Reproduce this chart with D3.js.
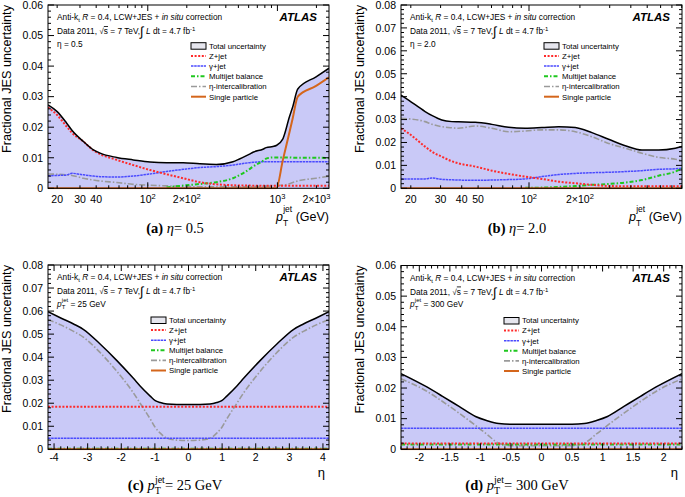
<!DOCTYPE html>
<html><head><meta charset="utf-8">
<script src="https://cdn.jsdelivr.net/npm/d3@7"></script>
<style>body{margin:0;background:#fff}svg{display:block}</style>
</head><body>
<svg id="chart" width="685" height="497"></svg>
<script>
// ---------- DATA ----------
// Panel (a): eta = 0.5, vs pT (GeV)
const ptA    = [17, 20, 23.7, 26, 31.9, 38.1, 42.9, 57.6, 77.3, 104, 139.6, 187.5, 252, 338, 454, 542, 610, 648, 773, 820, 923, 980, 1102, 1240, 1315, 1436, 1987, 2500];
const totalA = [0.0273,0.0251,0.0213,0.0190,0.0153,0.0126,0.0115,0.0101,0.0093,0.0086,0.0084,0.0084,0.0080,0.0078,0.0087,0.0101,0.0112,0.0118,0.0128,0.0133,0.0137,0.0140,0.0162,0.0235,0.0268,0.0325,0.0365,0.0393];
const zjetA  = [0.0265,0.0240,0.0202,0.0182,0.0153,0.0124,0.0112,0.0093,0.0076,0.0060,0.0046,0.0033,0.0020,0.0013,0.0010,0.0009,0.0009,0.0008,0.0008,0.0008,0.0008,0.0008,0.0008,0.0008,0.0008,0.0008,0.0008,0.0008];
const gjetA  = [0.0041,0.0042,0.0044,0.0049,0.0044,0.0040,0.0038,0.0037,0.0040,0.0047,0.0055,0.0062,0.0068,0.0071,0.0076,0.0081,0.0084,0.0085,0.0087,0.0087,0.0087,0.0087,0.0087,0.0087,0.0087,0.0087,0.0087,0.0087];
const mjbA   = [null,null,null,null,null,null,null,null,null,null,0.0003,0.0009,0.0014,0.0020,0.0033,0.0049,0.0063,0.0071,0.0090,0.0097,0.0101,0.0101,0.0101,0.0101,0.0100,0.0100,0.0100,0.0099];
const etaA   = [0.0047,0.0046,0.0044,0.0042,0.0033,0.0027,0.0024,0.0019,0.0013,0.0010,0.0008,0.0006,0.0005,0.0005,0.0005,0.0005,0.0006,0.0006,0.0007,0.0007,0.0008,0.0009,0.0010,0.0015,0.0019,0.0024,0.0033,0.0040];
const spA    = [0,0,0,0,0,0,0,0,0,0,0,0,0,0,0,0,0,0,0,0,0,0,0.0093,0.0184,0.0231,0.0300,0.0335,0.0363];

// Panel (b): eta = 2.0, vs pT (GeV)
const ptB    = [17.5, 19.4, 24.3, 26.6, 30.5, 35.0, 38.3, 48.0, 60.3, 75.7, 95.0, 119.2, 149.5, 187.7, 235.5, 295.6, 370.9, 465.5, 584.2, 733, 803];
const totalB = [0.0407,0.0385,0.0335,0.0318,0.0298,0.0291,0.0290,0.0288,0.0279,0.0266,0.0262,0.0265,0.0269,0.0265,0.0243,0.0214,0.0186,0.0167,0.0167,0.0175,0.0182];
const zjetB  = [0.0262,0.0240,0.0182,0.0160,0.0138,0.0118,0.0109,0.0095,0.0077,0.0063,0.0051,0.0041,0.0029,0.0022,0.0015,0.0010,0.0009,0.0009,0.0009,0.0009,0.0009];
const gjetB  = [0.0041,0.0041,0.0041,0.0045,0.0039,0.0037,0.0036,0.0035,0.0036,0.0038,0.0041,0.0051,0.0060,0.0065,0.0068,0.0070,0.0073,0.0077,0.0083,0.0085,0.0088];
const mjbB   = [null,null,null,null,null,null,null,null,null,null,0.0002,0.0003,0.0006,0.0010,0.0015,0.0019,0.0025,0.0036,0.0055,0.0073,0.0087];
const etaB   = [0.0305,0.0303,0.0291,0.0280,0.0269,0.0264,0.0262,0.0272,0.0262,0.0247,0.0250,0.0255,0.0255,0.0247,0.0225,0.0196,0.0175,0.0153,0.0135,0.0127,0.0121];
const spB    = [0,0,0,0,0,0,0,0,0,0,0,0,0,0,0,0,0,0,0,0,0];

// Panel (c): pT = 25 GeV, vs eta
const etaPtsC = [-4.18,-3.8,-3.42,-3.13,-2.63,-2.13,-1.64,-1.44,-1.14,-0.99,-0.84,-0.64,-0.35,0,0.35,0.64,0.84,0.99,1.14,1.44,1.64,2.13,2.63,3.13,3.42,3.8,4.18];
const totalC  = [0.0597,0.0570,0.0544,0.0521,0.0457,0.0385,0.0308,0.0275,0.0231,0.0211,0.0203,0.0197,0.0195,0.0195,0.0195,0.0197,0.0203,0.0211,0.0231,0.0275,0.0308,0.0385,0.0457,0.0521,0.0544,0.0570,0.0597];
const etaC    = [0.0563,0.0540,0.0512,0.0487,0.0420,0.0338,0.0245,0.0200,0.0132,0.0095,0.0070,0.0048,0.0040,0.0038,0.0040,0.0048,0.0070,0.0095,0.0132,0.0200,0.0245,0.0338,0.0420,0.0487,0.0512,0.0540,0.0563];
const zjetC   = etaPtsC.map(() => 0.0185);
const gjetC   = etaPtsC.map(() => 0.0048);
const mjbC    = etaPtsC.map(() => 0.0002);
const spC     = etaPtsC.map(() => 0);

// Panel (d): pT = 300 GeV, vs eta
const etaPtsD = [-2.3,-1.9,-1.62,-1.35,-1.08,-0.9,-0.7,-0.5,0,0.5,0.7,0.9,1.08,1.35,1.62,1.9,2.3];
const totalD  = [0.0247,0.0206,0.0173,0.0140,0.0107,0.0094,0.0084,0.0082,0.0082,0.0082,0.0084,0.0094,0.0107,0.0140,0.0173,0.0206,0.0247];
const etaD    = [0.0230,0.0192,0.0156,0.0118,0.0078,0.0050,0.0020,0.0012,0.0012,0.0012,0.0020,0.0050,0.0078,0.0118,0.0156,0.0192,0.0230];
const zjetD   = etaPtsD.map(() => 0.0019);
const gjetD   = etaPtsD.map(() => 0.0069);
const mjbD    = etaPtsD.map(() => 0.0016);
const spD     = etaPtsD.map(() => 0);

const legendLabels = ["Total uncertainty","Z+jet","\u03B3+jet","Multijet balance","\u03B7-intercalibration","Single particle"];
const xTickLabelsA = [[20,"20"],[30,"30"],[40,"40"],[100,"10^2"],[200,"2\u00D710^2"],[1000,"10^3"],[2000,"2\u00D710^3"]];
const xTickLabelsB = [[20,"20"],[30,"30"],[40,"40"],[50,"50"],[100,"10^2"],[200,"2\u00D710^2"]];
const xTickLabelsC = [-4,-3,-2,-1,0,1,2,3,4];
const xTickLabelsD = [-2,-1.5,-1,-0.5,0,0.5,1,1.5,2];

// ---------- STYLE ----------
const SANS = "'Liberation Sans', Arial, Helvetica, sans-serif";
const SERIF = "'Liberation Serif', 'Times New Roman', serif";
const FILL = "#c9c9f7";
const styles = {
  z:   {stroke:"#ff2a2a", width:2,   dash:"2,1.6"},
  g:   {stroke:"#4a4aff", width:1.5, dash:"2.5,0.7"},
  mj:  {stroke:"#1fc81f", width:2,   dash:"4,2,1.5,2"},
  eta: {stroke:"#9a9a9a", width:1.6, dash:"6,2,1.5,2"},
  sp:  {stroke:"#d4661c", width:2,   dash:null}
};

const svg = d3.select("#chart");

const panels = [
  {L:48, R:329, T:5, B:188.3, log:true, xd:[17,2500], ymax:0.06, xs:ptA,
   ser:{total:totalA,z:zjetA,g:gjetA,mj:mjbA,eta:etaA,sp:spA}, xlab:xTickLabelsA,
   third:"eta", thirdVal:"0.5", cap:"(a)", capVal:"0.5", legX:143, legY:40.7, legDy:10.2, xtitle:"pt"},
  {L:401, R:682, T:5, B:188.3, log:true, xd:[17.5,803], ymax:0.08, xs:ptB,
   ser:{total:totalB,z:zjetB,g:gjetB,mj:mjbB,eta:etaB,sp:spB}, xlab:xTickLabelsB,
   third:"eta", thirdVal:"2.0", cap:"(b)", capVal:"2.0", legX:143, legY:40.7, legDy:10.2, xtitle:"pt"},
  {L:48, R:329, T:265, B:449.3, log:false, xd:[-4.18,4.18], ymax:0.08, xs:etaPtsC,
   ser:{total:totalC,z:zjetC,g:gjetC,mj:mjbC,eta:etaC,sp:spC}, xlab:xTickLabelsC, major:1, minor:0.2,
   third:"pt", thirdVal:"25", cap:"(c)", capVal:"25", legX:103, legY:55, legDy:10.1, xtitle:"eta"},
  {L:401, R:682, T:265.5, B:449.3, log:false, xd:[-2.3,2.3], ymax:0.06, xs:etaPtsD,
   ser:{total:totalD,z:zjetD,g:gjetD,mj:mjbD,eta:etaD,sp:spD}, xlab:xTickLabelsD, major:0.5, minor:0.1,
   third:"pt", thirdVal:"300", cap:"(d)", capVal:"300", legX:103, legY:55, legDy:10.1, xtitle:"eta"}
];

function addSupText(sel, str, fs){
  const parts = str.split("^");
  sel.append("tspan").text(parts[0]);
  if(parts.length>1){
    sel.append("tspan").attr("dy",-4).attr("font-size",fs*0.72).text(parts[1]);
  }
}

panels.forEach((p,pi)=>{
  const g = svg.append("g");
  const x = (p.log ? d3.scaleLog() : d3.scaleLinear()).domain(p.xd).range([p.L,p.R]);
  const y = d3.scaleLinear().domain([0,p.ymax]).range([p.B,p.T]);
  const clipId = "clip"+pi;
  svg.append("clipPath").attr("id",clipId).append("rect")
    .attr("x",p.L).attr("y",p.T).attr("width",p.R-p.L).attr("height",p.B-p.T+1);
  const pg = g.append("g").attr("clip-path",`url(#${clipId})`);
  const idx = d3.range(p.xs.length);
  const area = d3.area().x(i=>x(p.xs[i])).y0(y(0)).y1(i=>y(p.ser.total[i])).curve(d3.curveMonotoneX);
  pg.append("path").attr("d",area(idx)).attr("fill",FILL);
  const mkLine = key => d3.line().defined(i=>p.ser[key][i]!==null)
     .x(i=>x(p.xs[i])).y(i=>y(p.ser[key][i])).curve(d3.curveMonotoneX);
  ["eta","g","mj","z","sp"].forEach(k=>{
    const s = styles[k];
    pg.append("path").attr("d",mkLine(k)(idx)).attr("fill","none")
      .attr("stroke",s.stroke).attr("stroke-width",s.width)
      .attr("stroke-dasharray",s.dash);
  });
  pg.append("path").attr("d",mkLine("total")(idx)).attr("fill","none")
    .attr("stroke","#000").attr("stroke-width",1.5);

  // frame
  g.append("rect").attr("x",p.L).attr("y",p.T).attr("width",p.R-p.L).attr("height",p.B-p.T)
    .attr("fill","none").attr("stroke","#000").attr("stroke-width",1);

  // y ticks
  const yMajor = d3.range(0, p.ymax+1e-9, 0.01);
  const yMinor = d3.range(0, p.ymax+1e-9, 0.002);
  const tk = g.append("g").attr("stroke","#000").attr("stroke-width",1);
  yMinor.forEach(v=>{
    const len = yMajor.some(m=>Math.abs(m-v)<1e-9) ? 6 : 3;
    tk.append("line").attr("x1",p.L).attr("x2",p.L+len).attr("y1",y(v)).attr("y2",y(v));
    tk.append("line").attr("x1",p.R).attr("x2",p.R-len).attr("y1",y(v)).attr("y2",y(v));
  });
  yMajor.forEach(v=>{
    g.append("text").attr("x",p.L-5).attr("y",y(v)+3.8).attr("text-anchor","end")
      .attr("font-family",SANS).attr("font-size",10.5)
      .text(v===0 ? "0" : d3.format(".2f")(v));
  });

  // x ticks
  let xt = [];
  if(p.log){
    for(let dec=10; dec<=10000; dec*=10){
      for(let m=1;m<10;m++){
        const v=m*dec;
        if(v>=p.xd[0] && v<=p.xd[1]) xt.push([v, m===1 ? 6 : 3]);
      }
    }
  } else {
    const n0 = Math.ceil(p.xd[0]/p.minor - 1e-9), n1 = Math.floor(p.xd[1]/p.minor + 1e-9);
    for(let n=n0;n<=n1;n++){
      const v = n*p.minor;
      const isMaj = Math.abs(v/p.major - Math.round(v/p.major))<1e-6;
      xt.push([v, isMaj?6:3]);
    }
  }
  xt.forEach(([v,len])=>{
    tk.append("line").attr("x1",x(v)).attr("x2",x(v)).attr("y1",p.B).attr("y2",p.B-len);
    tk.append("line").attr("x1",x(v)).attr("x2",x(v)).attr("y1",p.T).attr("y2",p.T+len);
  });
  if(p.log){
    p.xlab.forEach(([v,s])=>{
      const t = g.append("text").attr("x",x(v)).attr("y",p.B+15).attr("text-anchor","middle")
        .attr("font-family",SANS).attr("font-size",10.5);
      addSupText(t,s,10.5);
    });
  } else {
    p.xlab.forEach(v=>{
      g.append("text").attr("x",x(v)).attr("y",p.B+12).attr("text-anchor","middle")
        .attr("font-family",SANS).attr("font-size",10.5).text(String(v));
    });
  }

  // axis titles
  g.append("text").attr("transform",`translate(${p.L-36.7},${p.T}) rotate(-90)`)
    .attr("text-anchor","end").attr("font-family",SANS).attr("font-size",12.7)
    .text("Fractional JES uncertainty");
  if(p.xtitle==="pt"){
    const t = g.append("text").attr("x",p.R).attr("y",p.B+33).attr("text-anchor","end")
      .attr("font-family",SANS).attr("font-size",12.5);
    t.append("tspan").attr("font-style","italic").text("p");
    t.append("tspan").attr("font-size",8.5).attr("dy",5).text("T");
    t.append("tspan").attr("font-size",8.5).attr("dx",-5).attr("dy",-14).text("jet");
    t.append("tspan").attr("dy",9).text(" (GeV)");
  } else {
    g.append("text").attr("x",p.R-4).attr("y",p.B+28).attr("text-anchor","end")
      .attr("font-family",SANS).attr("font-size",13).text("\u03B7");
  }

  // header text
  const hx = p.L+9, hfs = 8.3;
  const h1 = g.append("text").attr("x",hx).attr("y",p.T+15).attr("font-family",SANS).attr("font-size",hfs);
  h1.append("tspan").text("Anti-k");
  h1.append("tspan").attr("font-size",6).attr("dy",2).text("t");
  h1.append("tspan").attr("dy",-2).text(" ");
  h1.append("tspan").attr("font-style","italic").text("R");
  h1.append("tspan").text(" = 0.4, LCW+JES + ");
  h1.append("tspan").attr("font-style","italic").text("in situ");
  h1.append("tspan").text(" correction");
  const h2 = g.append("text").attr("x",hx).attr("y",p.T+29).attr("font-family",SANS).attr("font-size",hfs);
  h2.append("tspan").text("Data 2011, \u221A");
  h2.append("tspan").attr("text-decoration","overline").text("s");
  h2.append("tspan").text(" = 7 TeV,");
  h2.append("tspan").attr("font-size",13).attr("dy",2).text("\u222B");
  h2.append("tspan").attr("dy",-2).text(" ");
  h2.append("tspan").attr("font-style","italic").text("L");
  h2.append("tspan").text(" dt = 4.7 fb");
  h2.append("tspan").attr("font-size",6).attr("dy",-3).text("-1");
  const h3 = g.append("text").attr("x",hx).attr("y",p.T+41.5).attr("font-family",SANS).attr("font-size",hfs);
  if(p.third==="eta"){
    h3.text("\u03B7 = "+p.thirdVal);
  } else {
    h3.append("tspan").attr("font-style","italic").text("p");
    h3.append("tspan").attr("font-size",6).attr("dy",2.5).text("T");
    h3.append("tspan").attr("font-size",6).attr("dx",-3.5).attr("dy",-7.5).text("jet");
    h3.append("tspan").attr("dy",5).text(" = "+p.thirdVal+" GeV");
  }
  g.append("text").attr("x",p.R-12).attr("y",p.T+16).attr("text-anchor","end")
    .attr("font-family",SANS).attr("font-size",11.5).attr("font-weight","bold")
    .attr("font-style","italic").text("ATLAS");

  // legend
  const lx = p.L+p.legX, ltx = lx+18;
  const keys = ["total","z","g","mj","eta","sp"];
  keys.forEach((k,i)=>{
    const ly = p.T+p.legY+i*p.legDy;
    if(k==="total"){
      g.append("rect").attr("x",lx).attr("y",ly-3).attr("width",15).attr("height",6.5)
        .attr("fill","#e6e6ee").attr("stroke","#000").attr("stroke-width",1);
    } else {
      const s = styles[k];
      g.append("line").attr("x1",lx).attr("x2",lx+15).attr("y1",ly).attr("y2",ly)
        .attr("stroke",s.stroke).attr("stroke-width",s.width).attr("stroke-dasharray",s.dash);
    }
    g.append("text").attr("x",ltx).attr("y",ly+2.8).attr("font-family",SANS).attr("font-size",7.8)
      .text(legendLabels[i]);
  });

  // caption
  const cx = (pi%2===0 ? 0 : 342) + 175;
  const cy = pi<2 ? 233 : 490;
  const c = g.append("text").attr("x",cx).attr("y",cy).attr("text-anchor","middle")
    .attr("font-family",SERIF).attr("font-size",14.5);
  c.append("tspan").attr("font-weight","bold").text(p.cap+" ");
  if(pi<2){
    c.append("tspan").attr("font-style","italic").text("\u03B7");
    c.append("tspan").text("= "+p.capVal);
  } else {
    c.append("tspan").attr("font-style","italic").text("p");
    c.append("tspan").attr("font-size",10).attr("dy",4).text("T");
    c.append("tspan").attr("font-size",10).attr("dx",-6).attr("dy",-11).text("jet");
    c.append("tspan").attr("dy",7).text("= "+p.capVal+" GeV");
  }
});
</script>
</body></html>
